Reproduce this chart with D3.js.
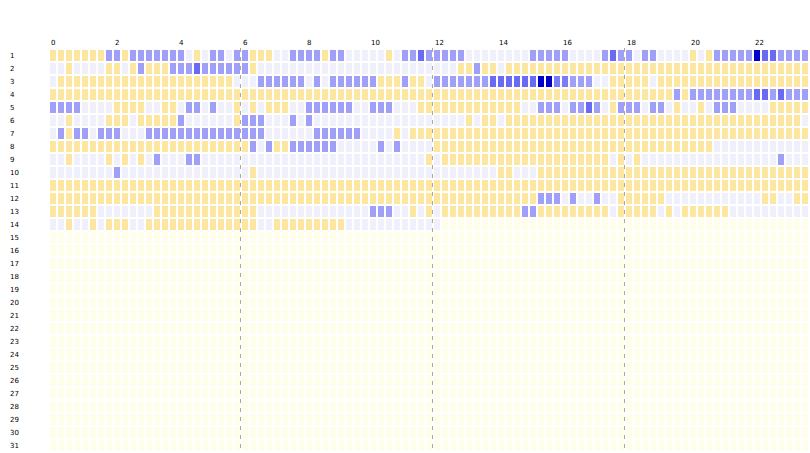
<!DOCTYPE html>
<html>
<head>
<meta charset="utf-8">
<script src="https://cdn.jsdelivr.net/npm/d3@7"></script>
<style>
  body { margin: 0; background: #fff; overflow: hidden; }
  text { font-family: "DejaVu Sans", sans-serif; font-size: 7px; fill: #000; }
</style>
</head>
<body>
<div id="chart"></div>
<script>

// day rows shown down the left side
const days = [1, 2, 3, 4, 5, 6, 7, 8, 9, 10, 11, 12, 13, 14, 15, 16,
              17, 18, 19, 20, 21, 22, 23, 24, 25, 26, 27, 28, 29, 30, 31];

// hour labels along the top
const hourTicks = [0, 2, 4, 6, 8, 10, 12, 14, 16, 18, 20, 22];

// dashed separators
const dividerHours = [6, 12, 18];

// 15 minute slots per day, written in four 6-hour blocks
// Y = yellow state, 0 = idle, 1..4 = blue level (4 darkest)
const dayLevels = [
  ["YYYYYYY11Y11111110Y01101", "1YYY001111Y1100000Y01131", "111100000000111110000131", "10110000Y0Y1111143311111"],
  ["00Y0000YY0Y1YYY111311111", "1Y0000000000000000000000", "000YY1YY0YYYYYYYYYYYYYYY", "YYYYYYYYYYYYYYYYYYYYYYYY"],
  ["0YYYYYYYYYYYYYYYYYYYYYY0", "00111111010111111YYY1YY0", "1111111333333442211100YY", "YYY0YYYYYYYYYYYYYYYYYYYY"],
  ["YYYYYYYYYYYYYYYYYYYYYYYY", "YYYYYYYYYYYYYYYYYYYYYYYY", "YYYYYYYYYYYYYYYYYYYYYYYY", "YYYYYY1Y1111111133131111"],
  ["11110000YYYY00YY0110100Y", "0Y0YYY0011111100111000YY", "YYYYYYYYYYY00111011310Y1", "110110Y00Y01110000YYYYYY"],
  ["00Y0000YYY0YYYYY1000000Y", "111000101000000000000000", "0000Y0YY0YYYYYYYYYYYYYYY", "YYYYYYYYYYYYYYYYYYYYYY00"],
  ["01Y110111000111111111111", "1110000001111110000Y0YYY", "YYYYYYYYYYYYYYYYYYYYYYYY", "YYYYYYYYYYYYYYYYYYYYYYYY"],
  ["YYYYYYYYYYYYYYYYYYYYYYYY", "Y101YY111111000001010000", "YYYYYYYYYYYYYYYYYYYYYYYY", "YYYYYYYYYYY0000000000000"],
  ["00Y0000Y0Y0Y010001100000", "00000000000000000000000Y", "0YYYYYYYYYYYYYYYYYYYYY0Y", "0Y0000000000000000010000"],
  ["000000001000000000000000", "0Y0000000000000000000000", "00000000YY000YYYYYYYYYYY", "YYYYYYYYYYYYYYYYYYYYYYYY"],
  ["YYYYYYYYYYYYYYYYYYYYYYYY", "YYYYYYYYYYYYYYYYYYYYYYYY", "YYYYYYYYYYYYYYYYYYYYYYYY", "YYYYYYYYYYYYYYYYYYYYYYYY"],
  ["YYYYYYYYYYYYYYYYYYYYYYYY", "YYYYYYYYYYYYYYYYYYYYYYYY", "YYYYYYYYYYYYY1110100100Y", "YYYYY000000000000YY00YYY"],
  ["YYYYYY0000000YYYYYYYYYYY", "YY0000000000000011100Y0Y", "0YYYYYYYYYY11YYYYYYYYY0Y", "YYYY0Y0YYYYYY00000000000"],
  ["00Y00Y0YYY00YYYYYYYYYYYY", "YY00YYYYYYYYY00000000000", "0", ""]
];

const slotsPerDay = 96;
const slotsPerHour = 4;

const levelColor = {
  "Y": "#fde6a0",
  "0": "#f0f0fd",
  "1": "#a0a0f8",
  "2": "#7c7cf6",
  "3": "#6a6af4",
  "4": "#0000cc"
};
const noDataColor = "#fefeea";

const width = 830, height = 453;

const svg = d3.select("#chart").append("svg")
    .attr("width", width)
    .attr("height", height);

const x = d3.scaleBand()
    .domain(d3.range(slotsPerDay))
    .range([49, 49 + slotsPerDay * 8])
    .paddingInner(0.25)
    .paddingOuter(0.125);

const y = d3.scaleBand()
    .domain(days)
    .range([49, 49 + days.length * 13])
    .paddingInner(2 / 13)
    .paddingOuter(1 / 13);

// flatten into one record per cell
const cells = [];
days.forEach(function (day, i) {
    const row = (dayLevels[i] || []).join("");
    for (let s = 0; s < slotsPerDay; s++) {
        cells.push({ day: day, slot: s, level: s < row.length ? row[s] : null });
    }
});

svg.append("g")
    .selectAll("rect")
    .data(cells)
    .join("rect")
    .attr("x", d => x(d.slot))
    .attr("y", d => y(d.day))
    .attr("width", x.bandwidth())
    .attr("height", y.bandwidth())
    .attr("fill", d => d.level === null ? noDataColor : levelColor[d.level]);

// dashed lines between the quarters of the day
svg.append("g")
    .selectAll("line")
    .data(dividerHours)
    .join("line")
    .attr("x1", d => x(d * slotsPerHour) - 1.5)
    .attr("x2", d => x(d * slotsPerHour) - 1.5)
    .attr("y1", 48)
    .attr("y2", height)
    .attr("stroke", "#b0a890")
    .attr("stroke-width", 1)
    .attr("stroke-dasharray", "4,5");

// hour labels
svg.append("g")
    .selectAll("text")
    .data(hourTicks)
    .join("text")
    .attr("x", d => x(d * slotsPerHour) + 1)
    .attr("y", 45)
    .text(d => d);

// day labels
svg.append("g")
    .selectAll("text")
    .data(days)
    .join("text")
    .attr("x", 10)
    .attr("y", d => y(d) + y.bandwidth() / 2 + 2.5)
    .text(d => d);

</script>
</body>
</html>
